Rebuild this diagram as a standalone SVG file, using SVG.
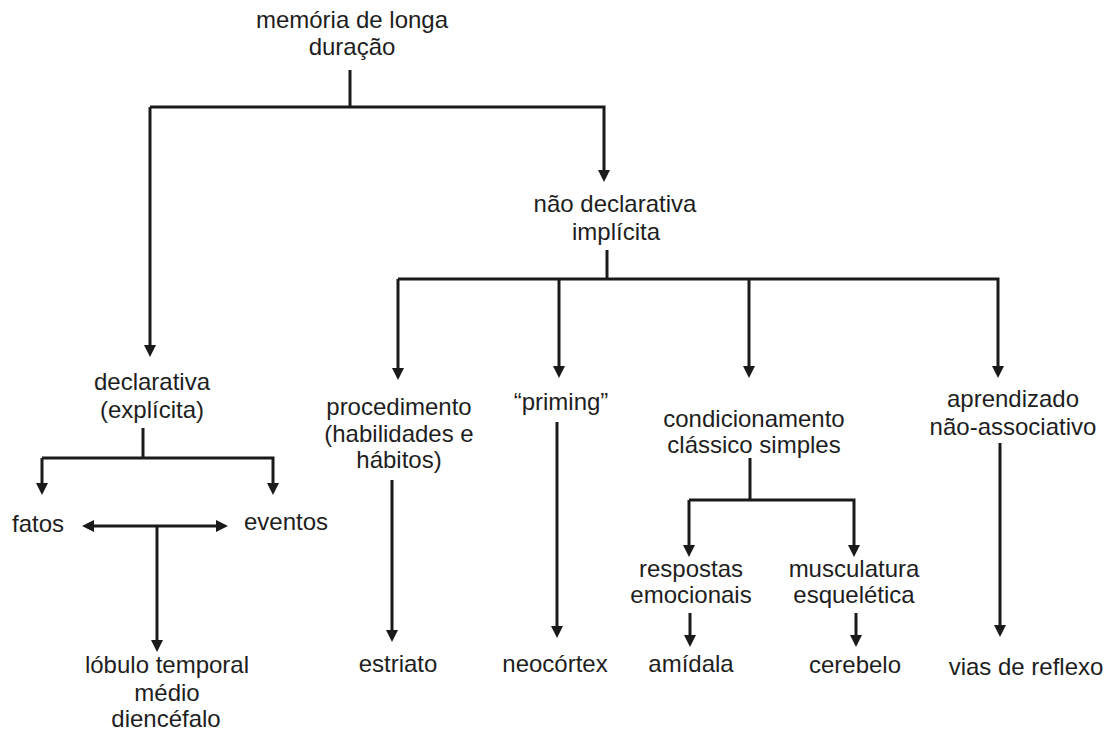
<svg xmlns="http://www.w3.org/2000/svg" width="1107" height="731" viewBox="0 0 1107 731">
<defs>
<style>
text{font-family:"Liberation Sans",Arial,sans-serif;font-size:24px;fill:#1e1e1e;text-anchor:middle}
.c{fill:none;stroke:#1a1a1a;stroke-width:3}
.a{marker-end:url(#ah)}
.d{marker-start:url(#ah);marker-end:url(#ah)}
</style>
<marker id="ah" viewBox="0 0 12 12" refX="4" refY="6" markerWidth="12" markerHeight="12" markerUnits="userSpaceOnUse" orient="auto-start-reverse">
<path d="M0,0 L12,6 L0,12 z" fill="#1a1a1a"/>
</marker>
</defs>
<rect width="1107" height="731" fill="#ffffff"/>
<g id="connectors">
<path class="c" d="M350,70 V107"/>
<path class="c a" d="M150,107 V349"/>
<path class="c a" d="M150,107 H604 V174"/>
<path class="c" d="M607,250 V279"/>
<path class="c a" d="M398,279 V372"/>
<path class="c a" d="M398,279 H998 V370"/>
<path class="c a" d="M559,279 V370"/>
<path class="c a" d="M749,279 V370"/>
<path class="c" d="M143,428 V458"/>
<path class="c a" d="M42,458 V487"/>
<path class="c a" d="M42,458 H273 V487"/>
<path class="c d" d="M90,526 H220"/>
<path class="c a" d="M157,526 V644"/>
<path class="c a" d="M392,480 V634"/>
<path class="c a" d="M557,422 V630"/>
<path class="c" d="M750,458 V500"/>
<path class="c a" d="M689,500 V549"/>
<path class="c a" d="M689,500 H854 V549"/>
<path class="c a" d="M690,613 V639"/>
<path class="c a" d="M856,613 V639"/>
<path class="c a" d="M1000,443 V629"/>
</g>
<g id="root"><text x="352" y="28">memória de longa</text><text x="352" y="55">duração</text></g>
<g id="nao-declarativa"><text x="615" y="212">não declarativa</text><text x="616" y="240">implícita</text></g>
<g id="declarativa"><text x="152" y="390">declarativa</text><text x="152" y="418">(explícita)</text></g>
<g id="fatos"><text x="12" y="532" style="text-anchor:start">fatos</text></g>
<g id="eventos"><text x="244" y="530" style="text-anchor:start">eventos</text></g>
<g id="lobulo"><text x="167" y="673">lóbulo temporal</text><text x="167" y="701">médio</text><text x="166" y="727">diencéfalo</text></g>
<g id="procedimento"><text x="399" y="415">procedimento</text><text x="399" y="442">(habilidades e</text><text x="399" y="468">hábitos)</text></g>
<g id="estriato"><text x="398" y="672">estriato</text></g>
<g id="priming"><text x="561" y="410">“priming”</text></g>
<g id="neocortex"><text x="555" y="672">neocórtex</text></g>
<g id="condicionamento"><text x="754" y="427">condicionamento</text><text x="754" y="453">clássico simples</text></g>
<g id="respostas"><text x="691" y="577">respostas</text><text x="691" y="603">emocionais</text></g>
<g id="musculatura"><text x="854" y="577">musculatura</text><text x="854" y="603">esquelética</text></g>
<g id="amidala"><text x="691" y="672">amídala</text></g>
<g id="cerebelo"><text x="855" y="673">cerebelo</text></g>
<g id="aprendizado"><text x="1013" y="407">aprendizado</text><text x="1013" y="435">não-associativo</text></g>
<g id="vias"><text x="1026" y="675">vias de reflexo</text></g>
</svg>
